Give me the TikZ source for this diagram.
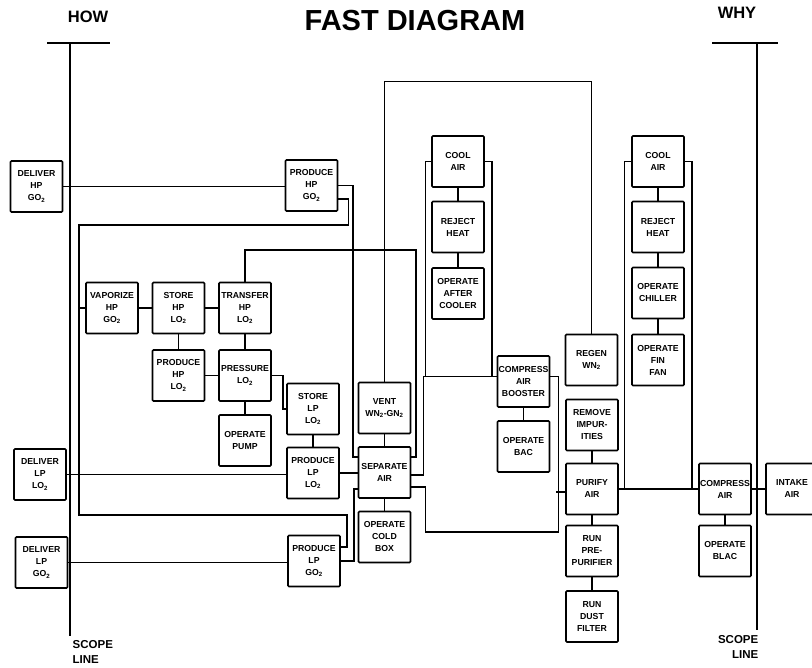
\documentclass[tikz,border=0pt]{standalone}
\usepackage{fontspec}
\setmainfont{Liberation Sans}
\newcommand{\subtwo}{\textsubscript{2}}
\begin{document}
\begin{tikzpicture}[x=1pt, y=-1pt, line width=1.4pt,
    fn/.style={draw, line width=1.6pt, rounded corners=1pt, minimum width=52pt,
               minimum height=51pt, inner sep=0pt, align=center,
               font=\bfseries\fontsize{8.7}{12}\selectfont},
    lbl/.style={font=\bfseries\fontsize{16.5}{18}\selectfont},
    scopetxt/.style={inner sep=0pt, font=\bfseries\fontsize{11.5}{15}\selectfont}]

        \useasboundingbox (0,0) rectangle (812,668);

        % ==========================================
        % 1. Titolo, HOW / WHY e linee di scope
        % ==========================================
        \node[font=\bfseries\fontsize{29}{32}\selectfont] (title) at (415,21) {FAST DIAGRAM};
        \node[lbl] (how) at (88,17) {HOW};
        \node[lbl] (why) at (737,13) {WHY};

        \coordinate (howL) at (47,43);  \coordinate (howR) at (110,43);
        \coordinate (howT) at (70,43);  \coordinate (howB) at (70,636);
        \coordinate (whyL) at (712,43); \coordinate (whyR) at (778,43);
        \coordinate (whyT) at (757,43); \coordinate (whyB) at (757,630);
        \draw (howL) -- (howR);
        \draw (howT) -- (howB);
        \draw (whyL) -- (whyR);
        \draw (whyT) -- (whyB);

        \node[scopetxt, anchor=north west, align=left] (howscope) at (72,640) {SCOPE\\LINE};
        \node[scopetxt, anchor=north east, align=right] (whyscope) at (759,635) {SCOPE\\LINE};

        % ==========================================
        % 2. Blocchi funzione (lato HOW)
        % ==========================================
        \node[fn] (dhg) at (36.5,186.5) {DELIVER\\HP\\GO\subtwo};
        \node[fn] (dll) at (40,474.5) {DELIVER\\LP\\LO\subtwo};
        \node[fn] (dlg) at (41.5,562.5) {DELIVER\\LP\\GO\subtwo};
        \node[fn] (phg) at (311.5,185.5) {PRODUCE\\HP\\GO\subtwo};
        \node[fn] (vap) at (112,308) {VAPORIZE\\HP\\GO\subtwo};
        \node[fn] (shl) at (178.5,308) {STORE\\HP\\LO\subtwo};
        \node[fn] (thl) at (245,308) {TRANSFER\\HP\\LO\subtwo};
        \node[fn] (phl) at (178.5,375.5) {PRODUCE\\HP\\LO\subtwo};
        \node[fn] (prs) at (245,375.5) {PRESSURE\\LO\subtwo};
        \node[fn] (pump) at (245,440.5) {OPERATE\\PUMP};
        \node[fn] (sll) at (313,409) {STORE\\LP\\LO\subtwo};
        \node[fn] (pll) at (313,473) {PRODUCE\\LP\\LO\subtwo};
        \node[fn] (plg) at (314,561) {PRODUCE\\LP\\GO\subtwo};
        \node[fn] (vent) at (384.5,408) {VENT\\WN\subtwo-GN\subtwo};
        \node[fn] (sep) at (384.5,472.5) {SEPARATE\\AIR};
        \node[fn] (cold) at (384.5,537) {OPERATE\\COLD\\BOX};

        % ==========================================
        % 3. Blocchi funzione (lato WHY)
        % ==========================================
        \node[fn] (ca1) at (458,161.5) {COOL\\AIR};
        \node[fn] (rh1) at (458,227) {REJECT\\HEAT};
        \node[fn] (oac) at (458,293.5) {OPERATE\\AFTER\\COOLER};
        \node[fn] (bst) at (523.5,381.5) {COMPRESS\\AIR\\BOOSTER};
        \node[fn] (bac) at (523.5,446.5) {OPERATE\\BAC};
        \node[fn] (rgn) at (591.5,360) {REGEN\\WN\subtwo};
        \node[fn] (rmv) at (592,425) {REMOVE\\IMPUR-\\ITIES};
        \node[fn] (pur) at (592,489) {PURIFY\\AIR};
        \node[fn] (rpp) at (592,551) {RUN\\PRE-\\PURIFIER};
        \node[fn] (rdf) at (592,616.5) {RUN\\DUST\\FILTER};
        \node[fn] (ca2) at (658,161.5) {COOL\\AIR};
        \node[fn] (rh2) at (658,227) {REJECT\\HEAT};
        \node[fn] (chl) at (658,293) {OPERATE\\CHILLER};
        \node[fn] (fan) at (658,360) {OPERATE\\FIN\\FAN};
        \node[fn] (cmp) at (725,489) {COMPRESS\\AIR};
        \node[fn] (blac) at (725,551) {OPERATE\\BLAC};
        \node[fn] (itk) at (792,489) {INTAKE\\AIR};

        % ==========================================
        % 4. Collegamenti diretti
        % ==========================================
        % verticali
        \foreach \a/\b in {shl/phl, thl/prs, prs/pump, sll/pll, vent/sep, sep/cold,
                           ca1/rh1, rh1/oac, bst/bac, rmv/pur, pur/rpp, rpp/rdf,
                           ca2/rh2, rh2/chl, chl/fan, cmp/blac}
            \draw (\a.south) -- (\b.north);
        % orizzontali
        \foreach \a/\b in {dhg/phg, dll/pll, dlg/plg, vap/shl, shl/thl, phl/prs,
                           pll/sep, pur/cmp, cmp/itk}
            \draw (\a.east) -- (\a.east -| \b.west);

        % ==========================================
        % 5. Collegamenti con gomiti
        % ==========================================
        \coordinate (hpbus) at (79,225);
        \coordinate (lpbus) at (79,515);

        % PRESSURE -> STORE LP
        \draw (prs.east) -- ++(11,0) |- (sll.west);

        % PRODUCE HP GO2 -> SEPARATE AIR
        \draw (phg.east) -- ++(14.5,0) |- ([yshift=15.5pt]sep.west);
        % PRODUCE HP GO2 -> PRODUCE LP GO2 (anello esterno)
        \draw ([yshift=-13.5pt]phg.east) -- ++(10,0) |- (hpbus) -- (lpbus)
              -- ++(268,0) |- ([yshift=14pt]plg.east);
        \draw (vap.west) -- (vap.west -| hpbus);
        % PRODUCE LP GO2 -> SEPARATE AIR
        \draw (plg.east) -- ++(13,0) |- ([yshift=-16.5pt]sep.west);

        % TRANSFER HP LO2 -> SEPARATE AIR
        \draw (thl.north) -- ++(0,-31.5) -- ++(171,0) |- ([yshift=15.5pt]sep.east);

        % SEPARATE AIR -> COMPRESS AIR BOOSTER
        \draw ([yshift=-2.5pt]sep.east) -- ++(12,0) |- ([yshift=5pt]bst.west);
        \draw ([yshift=-14.5pt]sep.east) -- ++(14,0) -- ++(0,45) -- ++(133,0)
              |- ([yshift=5pt]bst.east);
        \draw ([yshift=-3pt]pur.west) -- ++(-9,0);

        % REGEN WN2 -> VENT
        \draw (rgn.north) -- ++(0,-252) -| (vent.north);

        % colonne COOL AIR
        \draw (ca1.west) -- ++(-6,0) |- ([yshift=5pt]bst.west);
        \draw (ca1.east) -- ++(7,0) |- ([yshift=5pt]bst.west);
        \draw (ca2.west) -- ++(-7,0) |- (cmp.west);
        \draw (ca2.east) -- ++(7,0) |- (cmp.west);

\end{tikzpicture}
\end{document}
